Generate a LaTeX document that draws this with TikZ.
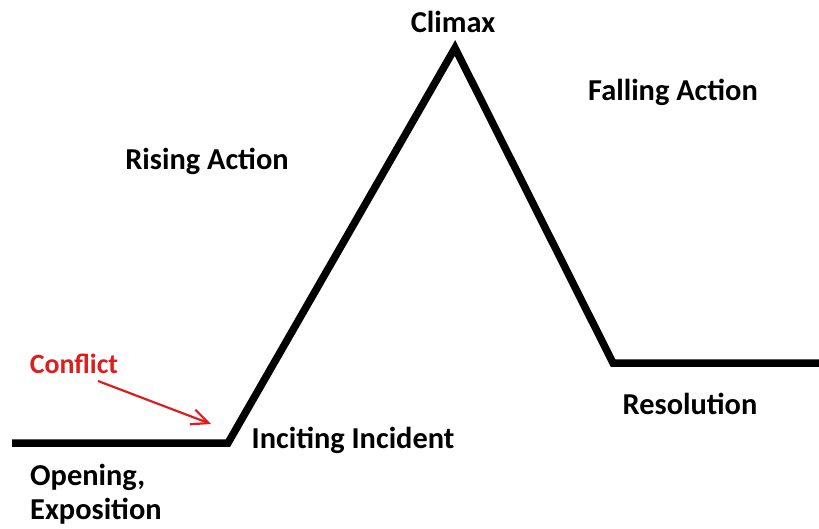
\documentclass[tikz,border=0pt]{standalone}
\usepackage{fontspec}
\setmainfont{Carlito}
\usepackage{tikz}
\usetikzlibrary{arrows.meta,positioning}
\definecolor{ConflictRed}{RGB}{220,30,30}

\begin{document}
\begin{tikzpicture}[x=1bp,y=-1bp]
      \tikzset{lbl/.style={font=\fontsize{30.5}{34}\selectfont\bfseries, inner sep=0pt}}
      \useasboundingbox (0,0) rectangle (819,529);
      \coordinate (start) at (12,443);
      \coordinate (incite) at (228,443);
      \coordinate (peak) at (455,48);
      \coordinate (resolve) at (613,363);
      \coordinate (finish) at (819,363);
      \draw[line width=7.5bp, line join=miter] (start)--(incite)--(peak)--(resolve)--(finish);
      \node[lbl] (climax) at (453,22) {Climax};
      \node[lbl] (falling) at (673,92) {Falling Action};
      \node[lbl] (rising) at (207,161) {Rising Action};
      \node[lbl] (inciting) at (353,440) {Inciting Incident};
      \node[lbl] (resolution) at (690,404) {Resolution};
      \node[lbl, align=left, anchor=west] (opening) at (30,494) {Opening,\\Exposition};
      \node[lbl, ConflictRed, font=\fontsize{28}{32}\selectfont\bfseries] (conflict) at (74,364) {Conflict};
      \coordinate (tail) at (98,381);
      \coordinate (hit) at (211,424);
      \draw[ConflictRed, line width=2.2bp, -{Straight Barb[length=6mm,width=5.5mm]}] (tail)--(hit);
    \end{tikzpicture}
\end{document}
